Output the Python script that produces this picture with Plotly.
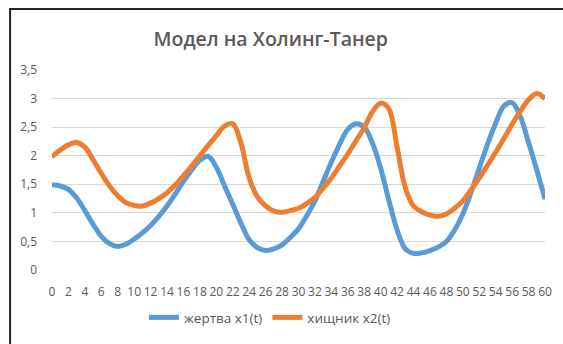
import plotly.graph_objects as go

# Time steps 0..60
t = list(range(61))

# Prey population x1(t)
prey = [1.49, 1.47, 1.41, 1.26, 1.04, 0.80, 0.59, 0.46, 0.41, 0.45,
        0.54, 0.65, 0.78, 0.94, 1.12, 1.33, 1.55, 1.75, 1.92, 1.99,
        1.80, 1.47, 1.15, 0.82, 0.53, 0.39, 0.34, 0.37, 0.44, 0.57,
        0.72, 0.95, 1.21, 1.55, 1.89, 2.20, 2.46, 2.56, 2.50, 2.22,
        1.78, 1.22, 0.70, 0.37, 0.29, 0.30, 0.34, 0.40, 0.50, 0.70,
        0.98, 1.36, 1.78, 2.20, 2.57, 2.87, 2.93, 2.68, 2.23, 1.75,
        1.24]

# Predator population x2(t)
predator = [1.98, 2.10, 2.19, 2.23, 2.15, 1.93, 1.69, 1.47, 1.30, 1.18,
            1.13, 1.12, 1.17, 1.25, 1.35, 1.49, 1.65, 1.82, 2.00, 2.18,
            2.35, 2.52, 2.56, 2.22, 1.61, 1.28, 1.12, 1.03, 1.01, 1.04,
            1.08, 1.16, 1.27, 1.43, 1.61, 1.82, 2.03, 2.26, 2.49, 2.77,
            2.92, 2.82, 2.15, 1.44, 1.12, 1.02, 0.96, 0.94, 0.98, 1.08,
            1.21, 1.40, 1.61, 1.83, 2.06, 2.30, 2.55, 2.78, 2.98, 3.09,
            3.00]

series_names = ["жертва x1(t)", "хищник x2(t)"]
x_ticks = list(range(0, 61, 2))
y_ticks = [0, 0.5, 1, 1.5, 2, 2.5, 3, 3.5]

text_color = "#595959"
font_family = "Open Sans, Liberation Sans, sans-serif"

fig = go.Figure()
fig.add_trace(go.Scatter(x=t, y=prey, name=series_names[0], mode="lines",
                         line=dict(color="#5B9BD5", width=5, shape="spline", smoothing=1.0)))
fig.add_trace(go.Scatter(x=t, y=predator, name=series_names[1], mode="lines",
                         line=dict(color="#ED7D31", width=5, shape="spline", smoothing=1.0)))

# Outer chart frame (left and top edges visible)
fig.add_shape(type="rect", xref="paper", yref="paper",
              x0=-0.085, x1=1.04, y0=-0.4, y1=1.305,
              line=dict(color="#262626", width=2), fillcolor="rgba(0,0,0,0)",
              layer="above")

fig.update_layout(
    width=563, height=344,
    margin=dict(l=52, r=11, t=70, b=70),
    paper_bgcolor="white", plot_bgcolor="white",
    separators=", ",
    font=dict(family=font_family, color=text_color),
    title=dict(text="Модел на Холинг-Танер", x=0.481, xanchor="center",
               y=0.887, yanchor="middle",
               font=dict(size=19.5, color=text_color, family=font_family, weight=600)),
    xaxis=dict(range=[0, 60], tickvals=x_ticks, ticktext=[str(v) for v in x_ticks],
               showgrid=False, zeroline=False, showline=False, ticks="",
               tickfont=dict(size=12, color=text_color), ticklabelstandoff=13),
    yaxis=dict(range=[0, 3.5], tickvals=y_ticks, showgrid=True, gridcolor="#d9d9d9",
               gridwidth=1, zeroline=False, showline=False, ticks="",
               tickfont=dict(size=12, color=text_color), ticklabelstandoff=14),
    legend=dict(orientation="h", x=0.442, xanchor="center", y=-0.238, yanchor="middle",
                font=dict(size=13.5, color=text_color), itemwidth=30),
    showlegend=True,
)

fig.write_html("out.html")
